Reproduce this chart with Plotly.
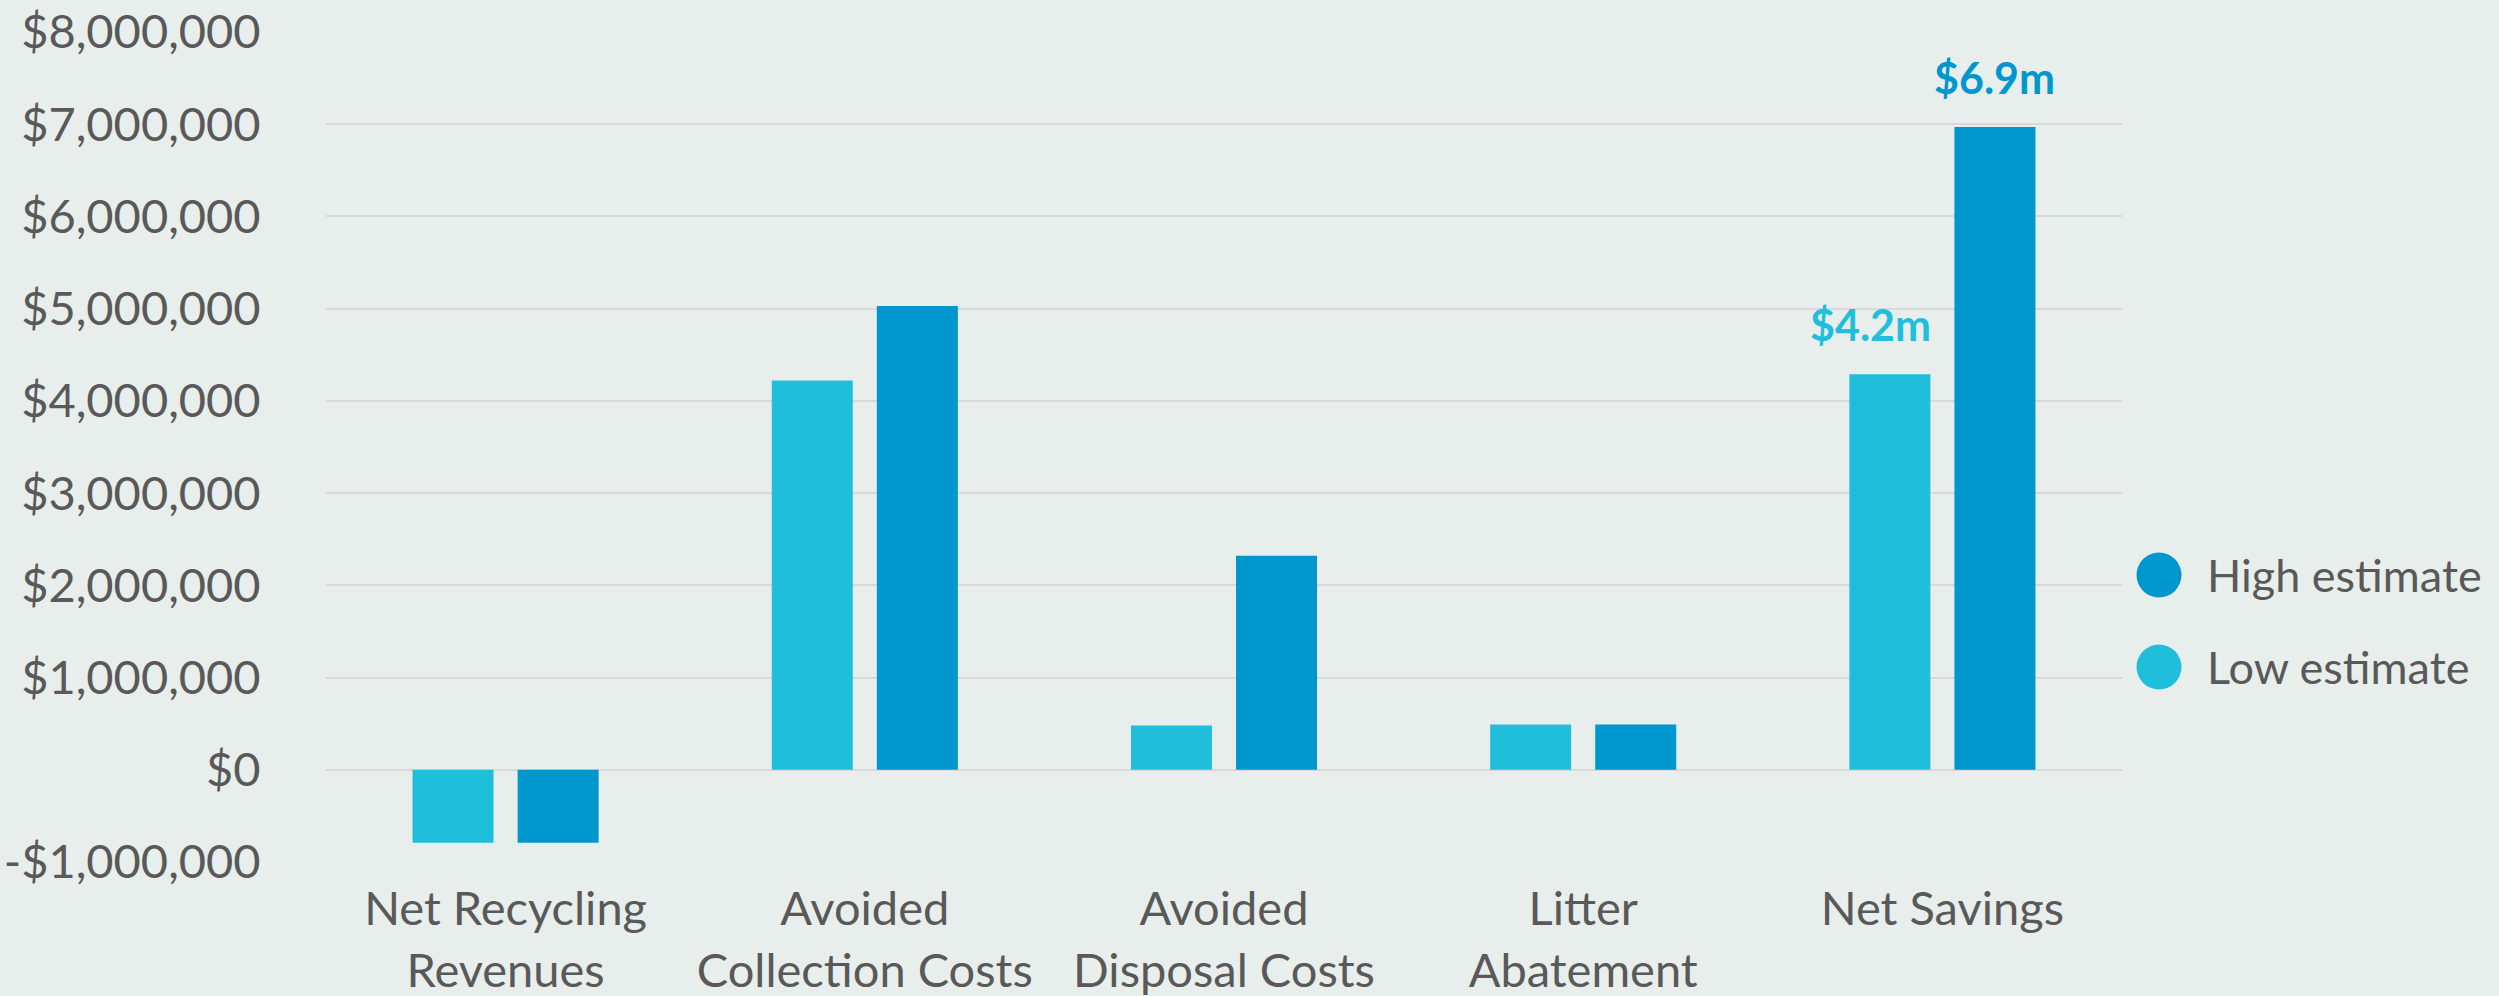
import plotly.graph_objects as go

categories = ["Net Recycling<br>Revenues", "Avoided<br>Collection Costs", "Avoided<br>Disposal Costs",
              "Litter<br>Abatement", "Net Savings"]
low_estimate = [-790000, 4220000, 480000, 490000, 4290000]
high_estimate = [-790000, 5030000, 2320000, 490000, 6970000]
series_names = ["High estimate", "Low estimate"]
tick_values = [-1000000, 0, 1000000, 2000000, 3000000, 4000000, 5000000, 6000000, 7000000, 8000000]
tick_labels = ["-$1,000,000", "$0", "$1,000,000", "$2,000,000", "$3,000,000", "$4,000,000",
               "$5,000,000", "$6,000,000", "$7,000,000", "$8,000,000"]
callout_low = "$4.2m"
callout_high = "$6.9m"

LOW_C = "#1FBFDB"
HIGH_C = "#0096CE"
TXT = "#595959"
BG = "#E8EEEC"
FONT = "Lato, 'Open Sans', sans-serif"

fig = go.Figure()
fig.add_trace(go.Bar(x=categories, y=low_estimate, name=series_names[1], marker_color=LOW_C,
                     marker_line_width=0, showlegend=False))
fig.add_trace(go.Bar(x=categories, y=high_estimate, name=series_names[0], marker_color=HIGH_C,
                     marker_line_width=0, showlegend=False))

W, H = 2499, 996
L, R, T, B = 326, 377, 32, 134
pw = W - L - R
ph = H - T - B

fig.update_layout(
    width=W, height=H,
    margin=dict(l=L, r=R, t=T, b=B, pad=0, autoexpand=False),
    paper_bgcolor=BG, plot_bgcolor=BG,
    barmode="group", bargap=0.415, bargroupgap=0.229,
    font=dict(family=FONT, color=TXT, size=46),
    showlegend=False,
)
fig.update_yaxes(range=[-1000000, 8000000], tickvals=tick_values, ticktext=tick_labels,
                 showgrid=True, gridcolor="#D9D9D9", gridwidth=2, zeroline=False,
                 showline=False, ticks="outside", ticklen=55, tickcolor="rgba(0,0,0,0)",
                 automargin=False,
                 tickfont=dict(size=47, family=FONT, color=TXT))
fig.update_xaxes(showgrid=False, showline=False, zeroline=False, ticks="outside", ticklen=6,
                 tickcolor="rgba(0,0,0,0)", automargin=False,
                 tickfont=dict(size=47, family=FONT, color=TXT))

# value callouts on Net Savings bars
fig.add_annotation(x=categories[4], y=low_estimate[4], text="<b>" + callout_low + "</b>",
                   showarrow=False, yanchor="bottom", yshift=22, xshift=-72,
                   font=dict(size=43, family=FONT, color=LOW_C))
fig.add_annotation(x=categories[4], y=high_estimate[4], text="<b>" + callout_high + "</b>",
                   showarrow=False, yanchor="bottom", yshift=22, xshift=52,
                   font=dict(size=43, family=FONT, color=HIGH_C))

# custom legend with large circle markers
legend_items = [(series_names[0], HIGH_C, 575), (series_names[1], LOW_C, 667)]
for name, col, py in legend_items:
    yp = (H - B - py) / ph
    xc = (2159 - L) / pw
    fig.add_shape(type="circle", xref="paper", yref="paper", xsizemode="pixel", ysizemode="pixel",
                  xanchor=xc, yanchor=yp, x0=-22.5, x1=22.5, y0=-22.5, y1=22.5,
                  fillcolor=col, line_width=0)
    fig.add_annotation(xref="paper", yref="paper", x=(2205 - L) / pw, y=yp, text=name,
                       showarrow=False, xanchor="left", yanchor="middle",
                       font=dict(size=45, family=FONT, color=TXT))

fig.write_html(
    "out.html",
    config={"displayModeBar": False},
    post_script=("document.body.style.margin='0';document.body.style.padding='0';"
                 "document.body.style.overflow='hidden';"
                 "document.body.style.background='" + BG + "';"),
)
